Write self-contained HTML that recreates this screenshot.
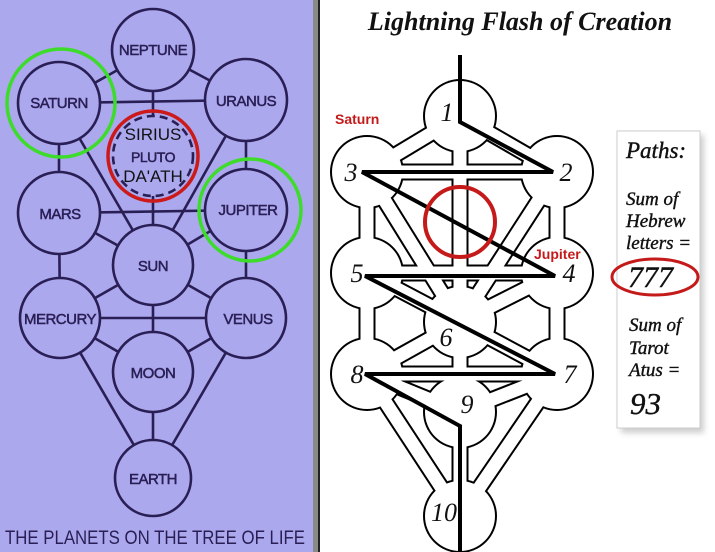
<!DOCTYPE html>
<html><head><meta charset="utf-8"><style>
html,body{margin:0;padding:0;background:#fff;}
body{width:715px;height:552px;overflow:hidden;position:relative;font-family:"Liberation Sans",sans-serif;}
</style></head><body>
<svg width="715" height="552" viewBox="0 0 715 552" xmlns="http://www.w3.org/2000/svg" style="position:absolute;left:0;top:0">
<!-- left panel -->
<rect x="0" y="0" width="313" height="552" fill="#aba8ee"/>
<rect x="313" y="0" width="5" height="552" fill="#8a8a8a"/>
<rect x="318" y="0" width="2" height="552" fill="#222"/>
<g stroke="#2a1f55" stroke-width="2.6" fill="none">
<line x1="153" y1="50" x2="59" y2="103"/><line x1="153" y1="50" x2="246" y2="100"/>
<line x1="59" y1="103" x2="246" y2="100"/><line x1="153" y1="50" x2="153" y2="265"/>
<line x1="59" y1="103" x2="59" y2="213"/><line x1="246" y1="100" x2="246" y2="210"/>
<line x1="59" y1="103" x2="153" y2="265"/><line x1="246" y1="100" x2="153" y2="265"/>
<line x1="59" y1="213" x2="246" y2="210"/><line x1="59" y1="213" x2="153" y2="265"/>
<line x1="246" y1="210" x2="153" y2="265"/><line x1="59" y1="213" x2="60" y2="318"/>
<line x1="246" y1="210" x2="246" y2="318"/><line x1="60" y1="318" x2="246" y2="318"/>
<line x1="153" y1="265" x2="60" y2="318"/><line x1="153" y1="265" x2="246" y2="318"/>
<line x1="153" y1="265" x2="153" y2="372"/><line x1="60" y1="318" x2="153" y2="372"/>
<line x1="246" y1="318" x2="153" y2="372"/><line x1="153" y1="372" x2="153" y2="478"/>
<line x1="60" y1="318" x2="153" y2="478"/><line x1="246" y1="318" x2="153" y2="478"/>
</g>
<g stroke="#2a1f55" stroke-width="2.6" fill="#aba8ee">
<circle cx="153" cy="50" r="41"/><circle cx="59" cy="103" r="41"/><circle cx="246" cy="100" r="41"/>
<circle cx="59" cy="213" r="41"/><circle cx="246" cy="210" r="41"/><circle cx="153" cy="265" r="40"/>
<circle cx="60" cy="318" r="40"/><circle cx="246" cy="318" r="40"/><circle cx="153" cy="372" r="40"/>
<circle cx="153" cy="478" r="38"/>
<circle cx="153" cy="156" r="40" stroke-dasharray="8 5"/>
</g>
<circle cx="153" cy="156" r="45" fill="none" stroke="#cc1a1a" stroke-width="3.5"/>
<circle cx="61" cy="103" r="54" fill="none" stroke="#3ddc2a" stroke-width="3.5"/>
<circle cx="250" cy="210" r="51" fill="none" stroke="#3ddc2a" stroke-width="3.5"/>
<g fill="#2a1f55" stroke="#2a1f55" stroke-width="0.5" font-family="Liberation Sans, sans-serif" font-size="15" text-anchor="middle" letter-spacing="-0.5">
<text x="153" y="55">NEPTUNE</text><text x="59" y="108">SATURN</text><text x="246" y="106">URANUS</text>
<text x="153" y="162" font-size="14">PLUTO</text><text x="60" y="219">MARS</text><text x="248" y="215">JUPITER</text>
<text x="153" y="271">SUN</text><text x="60" y="324">MERCURY</text><text x="248" y="324">VENUS</text>
<text x="153" y="378">MOON</text><text x="153" y="484">EARTH</text>
</g>
<g fill="#111" font-family="Liberation Sans, sans-serif" font-size="17" text-anchor="middle">
<text x="153" y="140">SIRIUS</text><text x="153" y="182">DA'ATH</text>
</g>
<text x="155" y="544" text-anchor="middle" fill="#2a1f55" font-family="Liberation Sans, sans-serif" font-size="19" textLength="300" lengthAdjust="spacingAndGlyphs">THE PLANETS ON THE TREE OF LIFE</text>

<!-- right tree -->
<text x="520" y="30" text-anchor="middle" font-family="Liberation Serif, serif" font-style="italic" font-weight="bold" font-size="26" fill="#111">Lightning Flash of Creation</text>
<g stroke-linecap="butt">
<g stroke="#000" stroke-width="17">
<path d="M460 116L557 172M460 116L367 172M460 116L460 322M557 172L367 172M557 172L557 273M367 172L367 273M557 172L460 322M367 172L460 322M557 273L367 273M557 273L460 322M367 273L460 322M557 273L557 374M367 273L367 374M460 322L557 374M460 322L367 374M460 322L460 412M557 374L367 374M557 374L460 412M367 374L460 412M557 374L460 516M367 374L460 516M460 412L460 516"/>
</g>
<g fill="#000">
<circle cx="460" cy="116" r="37"/><circle cx="557" cy="172" r="37"/><circle cx="367" cy="172" r="37"/>
<circle cx="557" cy="273" r="37"/><circle cx="367" cy="273" r="37"/><circle cx="460" cy="322" r="37"/>
<circle cx="557" cy="374" r="37"/><circle cx="367" cy="374" r="37"/><circle cx="460" cy="412" r="37"/><circle cx="460" cy="516" r="37"/>
</g>
<g stroke="#fff" stroke-width="13">
<path d="M460 116L557 172M460 116L367 172M460 116L460 322M557 172L367 172M557 172L557 273M367 172L367 273M557 172L460 322M367 172L460 322M557 273L367 273M557 273L460 322M367 273L460 322M557 273L557 374M367 273L367 374M460 322L557 374M460 322L367 374M460 322L460 412M557 374L367 374M557 374L460 412M367 374L460 412M557 374L460 516M367 374L460 516M460 412L460 516"/>
</g>
<g fill="#fff">
<circle cx="460" cy="116" r="35"/><circle cx="557" cy="172" r="35"/><circle cx="367" cy="172" r="35"/>
<circle cx="557" cy="273" r="35"/><circle cx="367" cy="273" r="35"/><circle cx="460" cy="322" r="35"/>
<circle cx="557" cy="374" r="35"/><circle cx="367" cy="374" r="35"/><circle cx="460" cy="412" r="35"/><circle cx="460" cy="516" r="35"/>
</g>
</g>
<polyline points="460,55 460,122 553,172 362,172 555,276 365,276 555,374 365,374 460,426 460,552" fill="none" stroke="#000" stroke-width="4" stroke-linejoin="miter"/>
<circle cx="460" cy="222" r="35" fill="none" stroke="#c41a1a" stroke-width="4"/>
<g font-family="Liberation Serif, serif" font-style="italic" font-size="26" fill="#111" text-anchor="middle">
<text x="447" y="121">1</text><text x="566" y="181">2</text><text x="351" y="181">3</text>
<text x="569" y="282">4</text><text x="357" y="282">5</text><text x="446" y="346">6</text>
<text x="570" y="383">7</text><text x="357" y="383">8</text><text x="467" y="413">9</text><text x="444" y="521">10</text>
</g>
<text x="335" y="124" font-family="Liberation Sans, sans-serif" font-weight="bold" font-size="14" fill="#c41a1a">Saturn</text>
<text x="534" y="259" font-family="Liberation Sans, sans-serif" font-weight="bold" font-size="14" fill="#c41a1a">Jupiter</text>

<!-- paths box -->
<rect x="621" y="135" width="83" height="298" fill="#777" opacity="0.35" filter="blur(3px)"/>
<rect x="617" y="131" width="83" height="297" fill="#fff" stroke="#ccc" stroke-width="1"/>
<g font-family="Liberation Serif, serif" font-style="italic" fill="#111" stroke="#111" stroke-width="0.4">
<text x="626" y="158" font-size="23">Paths:</text>
<text x="626" y="205" font-size="19">Sum of</text>
<text x="626" y="227" font-size="19">Hebrew</text>
<text x="626" y="249" font-size="19">letters =</text>
<text x="628" y="287" font-size="30">777</text>
<text x="629" y="331" font-size="19">Sum of</text>
<text x="629" y="354" font-size="19">Tarot</text>
<text x="629" y="376" font-size="19">Atus =</text>
<text x="630" y="414" font-size="31">93</text>
</g>
<ellipse cx="655" cy="277" rx="43" ry="18" fill="none" stroke="#c41a1a" stroke-width="3"/>
</svg>
</body></html>
